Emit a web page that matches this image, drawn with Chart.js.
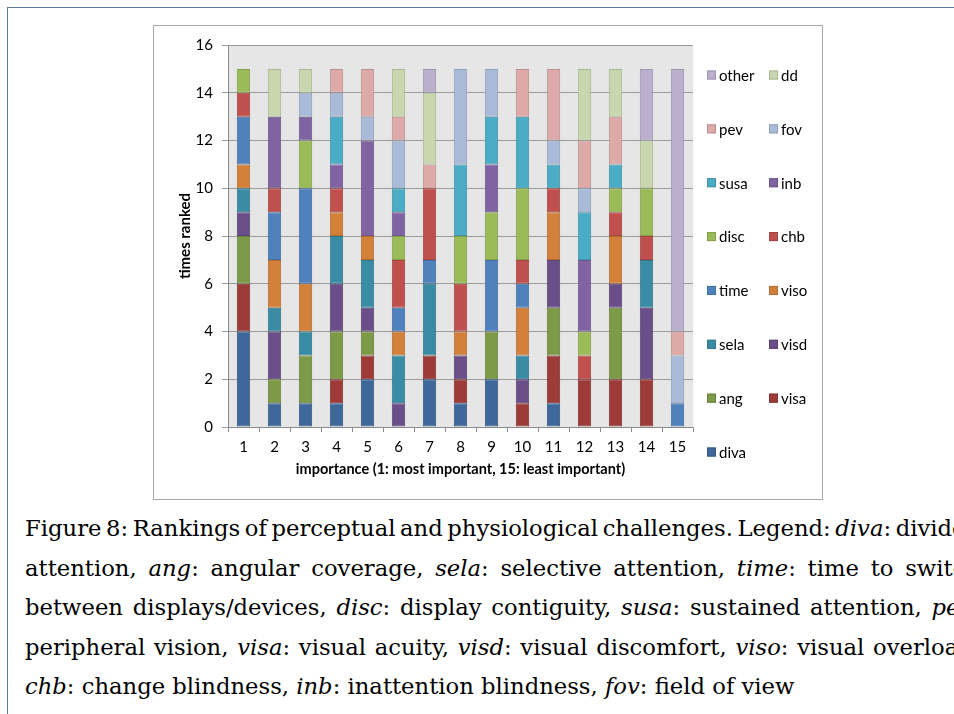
<!DOCTYPE html>
<html><head><meta charset="utf-8">
<script src="https://cdn.jsdelivr.net/npm/chart.js@4"></script>
<style>
html,body{margin:0;padding:0;background:#fff;width:954px;height:714px;overflow:hidden;}
#frame{position:absolute;left:7px;top:7px;width:1000px;height:800px;border-left:1px solid #5f7a9e;border-top:1px solid #5f7a9e;}
#box{position:absolute;left:153px;top:25px;width:668px;height:473px;border:1px solid #a8a8a8;}
#c{position:absolute;left:154px;top:26px;}
#cap{position:absolute;left:25px;top:510px;font-family:"DejaVu Serif",serif;color:#000;}
#cap div{white-space:nowrap;}
</style></head>
<body>
<div id="frame"></div>
<div id="box"></div>
<canvas id="c" width="668" height="473"></canvas>
<div id="cap">
<div><span>Figure 8: Rankings of perceptual and physiological challenges. Legend: <i>diva</i>: divided</span></div>
<div><span>attention, <i>ang</i>: angular coverage, <i>sela</i>: selective attention, <i>time</i>: time to switch</span></div>
<div><span>between displays/devices, <i>disc</i>: display contiguity, <i>susa</i>: sustained attention, <i>pev</i>:</span></div>
<div><span>peripheral vision, <i>visa</i>: visual acuity, <i>visd</i>: visual discomfort, <i>viso</i>: visual overload,</span></div>
<div class="last"><span><i>chb</i>: change blindness, <i>inb</i>: inattention blindness, <i>fov</i>: field of view</span></div>
</div>
<script>
// ---- data ----
const categories = ['1','2','3','4','5','6','7','8','9','10','11','12','13','14','15'];
const yTicks = [0,2,4,6,8,10,12,14,16];
const seriesNames = ['diva','visa','ang','visd','sela','viso','time','chb','disc','inb','susa','fov','pev','dd','other'];
const diva  = [4,1,1,1,2,0,2,1,2,0,1,0,0,0,0];
const visa  = [2,0,0,1,1,0,1,1,0,1,2,2,2,2,0];
const ang   = [2,1,2,2,1,0,0,0,2,0,2,0,3,0,0];
const visd  = [1,2,0,2,1,1,0,1,0,1,2,0,1,3,0];
const sela  = [1,1,1,2,2,2,3,0,0,1,0,0,0,2,0];
const viso  = [1,2,2,1,1,1,0,1,0,2,2,0,2,0,0];
const time  = [2,2,4,0,0,1,1,0,3,1,0,0,0,0,1];
const chb   = [1,1,0,1,0,2,3,2,0,1,1,1,1,1,0];
const disc  = [1,0,2,0,0,1,0,2,2,3,0,1,1,2,0];
const inb   = [0,3,1,1,4,1,0,0,2,0,0,3,0,0,0];
const susa  = [0,0,0,2,0,1,0,3,2,3,1,2,1,0,0];
const fov   = [0,0,1,1,1,2,0,4,2,0,1,1,0,0,2];
const pev   = [0,0,0,1,2,1,1,0,0,2,3,2,2,0,1];
const dd    = [0,2,1,0,0,2,3,0,0,0,0,3,2,2,0];
const other = [0,0,0,0,0,0,1,0,0,0,0,0,0,3,11];
const seriesValues = [diva,visa,ang,visd,sela,viso,time,chb,disc,inb,susa,fov,pev,dd,other];
const xTitle = 'importance (1: most important, 15: least important)';
const yTitle = 'times ranked';

// ---- styles ----
const fills = ['#3e689a','#9d3b38','#7d9a48','#694e8a','#398ca4','#d3803a','#4f81bd','#c0504d','#9bbb59','#8064a2','#4bacc6','#aabbd9','#dda9a9','#c8d7ad','#baafcd'];
function darker(hex,f){const n=parseInt(hex.slice(1),16);const r=Math.round(((n>>16)&255)*f),g=Math.round(((n>>8)&255)*f),b=Math.round((n&255)*f);return `rgb(${r},${g},${b})`;}
const FONT = 'Lato';

const datasets = seriesNames.map((name,i)=>({
  label:name, data:seriesValues[i], backgroundColor:fills[i], borderColor:darker(fills[i],0.85),
  borderWidth:1, borderSkipped:false, categoryPercentage:1, barPercentage:0.43
}));

const plotBg = {id:'plotBg', beforeDraw(chart){const {ctx,chartArea:a}=chart;ctx.save();ctx.fillStyle='#e6e6e6';ctx.fillRect(a.left,a.top,a.right-a.left,a.bottom-a.top);ctx.restore();}};

const gridLegend = {id:'gridLegend', afterDraw(chart){
  const ctx=chart.ctx; const ds=chart.data.datasets; const n=ds.length;
  const colX=[553,615], rowY0=49, rowH=53.86, box=9;
  ctx.save(); ctx.font='15px '+FONT; ctx.textBaseline='middle'; ctx.textAlign='left';
  for(let k=0;k<n;k++){
    const idx=n-1-k; const row=Math.floor(k/2), col=k%2;
    const x=colX[col], y=rowY0+row*rowH;
    ctx.fillStyle=ds[idx].backgroundColor; ctx.fillRect(x,y-box/2,box,box);
    ctx.strokeStyle=ds[idx].borderColor; ctx.lineWidth=1; ctx.strokeRect(x+0.5,y-box/2+0.5,box-1,box-1);
    ctx.fillStyle='#000'; ctx.fillText(ds[idx].label,x+box+3,y+1);
  }
  ctx.restore();
}};

new Chart(document.getElementById('c'),{
  type:'bar',
  data:{labels:categories, datasets},
  plugins:[plotBg,gridLegend],
  options:{
    responsive:false, animation:false, devicePixelRatio:1,
    layout:{padding:{top:19,right:129,left:0,bottom:0}},
    plugins:{legend:{display:false},tooltip:{enabled:false}},
    scales:{
      x:{stacked:true,
        grid:{offset:true,drawOnChartArea:false,drawTicks:true,tickLength:5,color:'#8c8c8c'},
        border:{color:'#8c8c8c'},
        ticks:{font:{family:FONT,size:15},color:'#000',padding:6,maxRotation:0,autoSkip:false},
        title:{display:true,text:xTitle,font:{family:FONT,size:14.5,weight:'bold'},color:'#000',padding:{top:0,bottom:21}},
        afterFit(s){s.height=72;}
      },
      y:{stacked:true,min:0,max:16,
        afterBuildTicks(s){s.ticks=yTicks.map(v=>({value:v}));},
        grid:{color:'#9a9a9a',tickLength:6},
        border:{color:'#8c8c8c'},
        ticks:{font:{family:FONT,size:15},color:'#000',padding:9},
        title:{display:true,text:yTitle,font:{family:FONT,size:15,weight:'bold'},color:'#000',padding:{top:22,bottom:0}},
        afterFit(s){s.width=74;}
      }
    }
  }
});

// ---- caption layout ----
(function(){
  const cap=document.getElementById('cap'); const lines=[...cap.children];
  const last=lines[4].firstElementChild;
  cap.style.fontSize='100px';
  const w5=last.getBoundingClientRect().width;
  const fs=100*770/w5;
  cap.style.fontSize=fs+'px';
  const L=39.4; cap.style.lineHeight=L+'px';
  const base=(L-1.164*fs)/2+0.928*fs;
  cap.style.top=(537-base)+'px';
  const W=955;
  lines.forEach((d,i)=>{ if(i===4) return; const sp=d.firstElementChild; const w=sp.getBoundingClientRect().width; const n=(sp.textContent.match(/ /g)||[]).length; sp.style.wordSpacing=((W-w)/n)+'px'; });
})();
</script>
</body></html>
